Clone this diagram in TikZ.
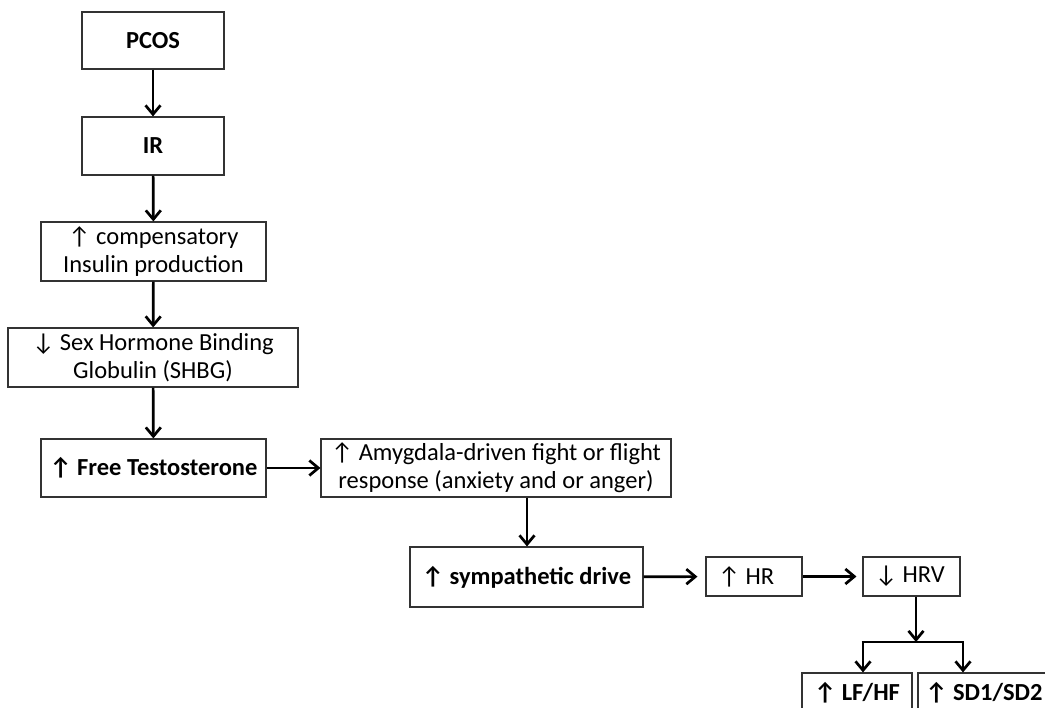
\documentclass[tikz,border=0pt]{standalone}
\usepackage{fontspec}
\setmainfont{Carlito}
\usetikzlibrary{arrows.meta}
\tikzset{
  box/.style={draw=black!80, line width=1.1pt, inner sep=0pt, align=center, font=\fontsize{24.5}{28}\selectfont},
  arr/.style={line width=2.7pt, -{Straight Barb[length=9pt,width=15pt,line width=2.7pt]}},
  conn/.style={line width=2.7pt}
}
\newcommand{\up}{↑}
\newcommand{\dn}{↓}
\begin{document}
\begin{tikzpicture}[x=1pt,y=-1pt]
\useasboundingbox (0,0) rectangle (1045,708);
\clip (0,0) rectangle (1045,708);
\node[box, minimum width=142pt, minimum height=57pt] (pcos) at (153,40.5) {\bfseries PCOS};
\node[box, minimum width=142pt, minimum height=58pt] (ir) at (153,146) {\bfseries IR};
\node[box, minimum width=225pt, minimum height=59pt] (comp) at (153.5,251.5) {\up\ compensatory\\Insulin production};
\node[box, minimum width=290pt, minimum height=59pt] (shbg) at (153,357.5) {\dn\ Sex Hormone Binding\\Globulin (SHBG)};
\node[box, minimum width=225pt, minimum height=58pt] (ft) at (153.5,468) {\bfseries\up\ Free Testosterone};
\node[box, minimum width=350pt, minimum height=58pt] (amyg) at (496,468) {\up\ Amygdala-driven fight or flight\\response (anxiety and or anger)};
\node[box, minimum width=233pt, minimum height=60pt] (symp) at (526.5,577) {\bfseries\up\ sympathetic drive};
\node[box, minimum width=96pt, minimum height=39pt] (hr) at (754,576.5) {\makebox[72pt][l]{\up\ HR}};
\node[box, minimum width=97pt, minimum height=39pt] (hrv) at (911.5,576.5) {\makebox[73pt][l]{\dn\ HRV}};
\node[box, minimum width=110pt, minimum height=40pt] (lf) at (857,693) {\bfseries\up\ LF/HF};
\node[box, minimum width=132pt, minimum height=40pt] (sd) at (984,693) {\bfseries\up\ SD1/SD2};
\coordinate (j) at (916,642);
\coordinate (jl) at (863,642);
\coordinate (jr) at (963,642);
\draw[arr] (pcos) -- (ir);
\draw[arr] (ir) -- (comp);
\draw[arr] (comp) -- (shbg);
\draw[arr] (shbg) -- (ft);
\draw[arr] (ft) -- (amyg);
\draw[arr] (amyg.south -| 527,0) -- (symp.north -| 527,0);
\draw[arr, shorten >=8pt] (symp) -- (hr);
\draw[arr, shorten >=6pt] (hr) -- (hrv);
\draw[arr] (hrv.south -| j) -- (j);
\draw[conn, line cap=butt] ([xshift=-1.35pt]jl) -- ([xshift=1.35pt]jr);
\draw[arr] (jl) -- (jl |- lf.north);
\draw[arr] (jr) -- (jr |- sd.north);
\end{tikzpicture}
\end{document}
